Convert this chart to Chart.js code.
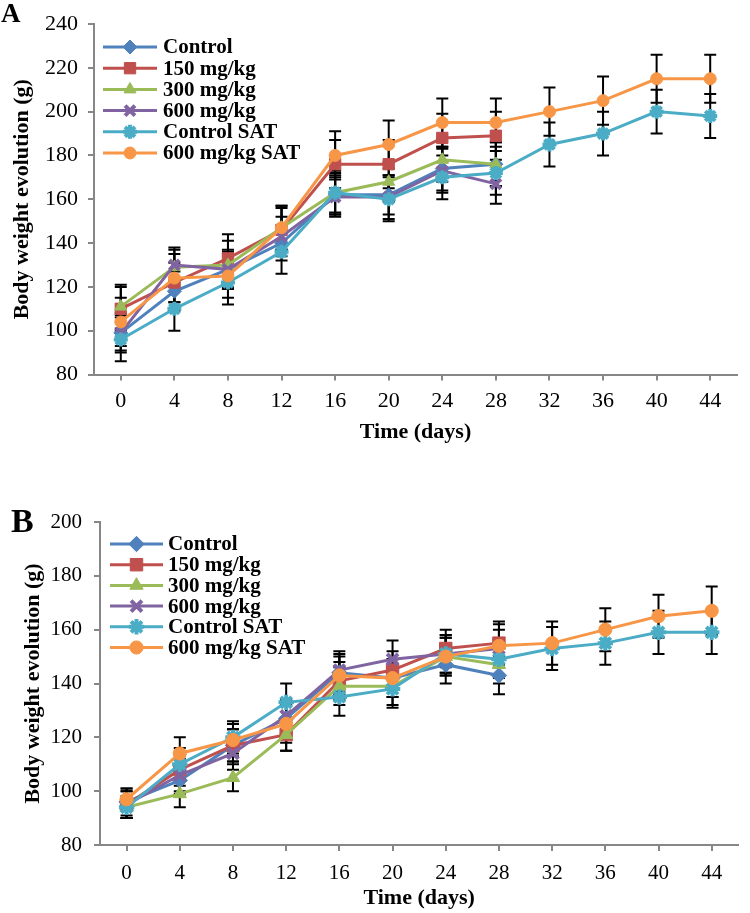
<!DOCTYPE html>
<html>
<head>
<meta charset="utf-8">
<script src="https://cdn.jsdelivr.net/npm/chart.js@4.4.1/dist/chart.umd.min.js"></script>
<style>
  html, body { margin: 0; padding: 0; background: #fff; }
  body { width: 750px; height: 913px; position: relative; overflow: hidden; font-family: "Liberation Serif", "Times New Roman", serif; }
  .panel { position: absolute; left: 0; width: 750px; }
  .tag { position: absolute; font-weight: bold; line-height: 1; color: #000; }
</style>
</head>
<body>
<div class="panel" style="top:0;height:460px"><canvas id="chartA"></canvas></div>
<div class="panel" style="top:480px;height:433px"><canvas id="chartB"></canvas></div>
<div class="tag" style="left:1px;top:0px;font-size:27px">A</div>
<div class="tag" style="left:11px;top:504px;font-size:34px">B</div>
<script>
// x categories (days)
var days = ["0","4","8","12","16","20","24","28","32","36","40","44"];
var seriesNames = ["Control", "150 mg/kg", "300 mg/kg", "600 mg/kg", "Control SAT", "600 mg/kg SAT"];

// Panel A - body weight (g), mean and SD
var controlA      = [99, 118, 128, 140, 162, 162, 174, 176];
var dose150A      = [110, 122, 133, 146, 176, 176, 188, 189];
var dose300A      = [111, 129, 130, 147, 163, 168, 178, 176];
var dose600A      = [99, 130, 128, 143, 161, 161, 173, 167];
var controlSatA   = [96, 110, 122, 136, 163, 160, 170, 172, 185, 190, 200, 198];
var dose600SatA   = [104, 124, 125, 147, 180, 185, 195, 195, 200, 205, 215, 215];

var controlA_sd    = [8, 9, 8, 8, 9, 9, 10, 10];
var dose150A_sd    = [10, 9, 11, 10, 11, 11, 11, 11];
var dose300A_sd    = [10, 8, 11, 10, 9, 9, 10, 10];
var dose600A_sd    = [9, 8, 9, 9, 9, 10, 10, 9];
var controlSatA_sd = [10, 10, 10, 10, 10, 10, 10, 10, 10, 10, 10, 10];
var dose600SatA_sd = [11, 11, 10, 10, 11, 11, 11, 11, 11, 11, 11, 11];

// Panel B
var controlB      = [96, 104, 117, 127, 144, 142, 147, 143];
var dose150B      = [95, 108, 117, 121, 141, 145, 153, 155];
var dose300B      = [94, 99, 105, 121, 139, 139, 150, 147];
var dose600B      = [95, 106, 114, 128, 145, 149, 151, 153];
var controlSatB   = [94, 110, 120, 133, 135, 138, 151, 149, 153, 155, 159, 159];
var dose600SatB   = [97, 114, 119, 125, 143, 142, 150, 154, 155, 160, 165, 167];

var controlB_sd    = [5, 5, 6, 6, 7, 7, 7, 7];
var dose150B_sd    = [5, 6, 6, 6, 7, 7, 7, 8];
var dose300B_sd    = [4, 5, 5, 6, 7, 7, 7, 7];
var dose600B_sd    = [5, 6, 6, 6, 7, 7, 7, 7];
var controlSatB_sd = [4, 6, 6, 7, 7, 7, 7, 7, 8, 8, 8, 8];
var dose600SatB_sd = [4, 6, 6, 7, 7, 7, 7, 8, 8, 8, 8, 9];

// look
var colors  = ['#4F81BD', '#C0504D', '#9BBB59', '#8064A2', '#4BACC6', '#F79646'];
var markers = ['rectRot', 'rect', 'triangle', 'crossRot', 'star', 'circle'];
var markerR = [7, 8, 7, 7, 7, 6];
var axisGray = '#878787';

Chart.defaults.font.family = '"Liberation Serif", "Times New Roman", serif';
Chart.defaults.color = '#000';

function makeSets(values, errors, scale)
{
    return values.map(function (v, i) {
        var stroke = (markers[i] == 'crossRot' || markers[i] == 'star');
        return {
            label: seriesNames[i],
            data: v,
            errors: errors[i],
            borderColor: colors[i],
            backgroundColor: colors[i],
            borderWidth: 3,
            pointStyle: markers[i],
            pointRadius: markerR[i] * scale,
            pointBorderWidth: stroke ? 4 : 1,
            pointBackgroundColor: colors[i],
            pointBorderColor: colors[i],
            fill: false,
            tension: 0,
            order: 5 - i
        };
    });
}

var errorBars = {
    id: 'errorBars',
    beforeDatasetsDraw: function (chart, args, opts) {
        var ctx = chart.ctx, ys = chart.scales.y;
        ctx.save();
        ctx.strokeStyle = '#000';
        ctx.lineWidth = opts.width;
        chart.data.datasets.forEach(function (ds, i) {
            var meta = chart.getDatasetMeta(i);
            ds.errors.forEach(function (e, j) {
                var v = ds.data[j];
                if (v == null) return;
                var px = meta.data[j].x;
                var t = ys.getPixelForValue(v + e), b = ys.getPixelForValue(v - e);
                ctx.beginPath();
                ctx.moveTo(px, t); ctx.lineTo(px, b);
                ctx.moveTo(px - opts.cap, t); ctx.lineTo(px + opts.cap, t);
                ctx.moveTo(px - opts.cap, b); ctx.lineTo(px + opts.cap, b);
                ctx.stroke();
            });
        });
        ctx.restore();
    }
};

var seriesKey = {
    id: 'seriesKey',
    afterDatasetsDraw: function (chart, args, opts) {
        var ctx = chart.ctx;
        ctx.save();
        chart.data.datasets.forEach(function (ds, i) {
            var y = opts.y + i * opts.rowH;
            ctx.strokeStyle = ds.borderColor;
            ctx.lineWidth = 3;
            ctx.beginPath();
            ctx.moveTo(opts.x, y); ctx.lineTo(opts.x + opts.lineLen, y);
            ctx.stroke();
            ctx.fillStyle = ds.pointBackgroundColor;
            ctx.strokeStyle = ds.pointBorderColor;
            ctx.lineWidth = ds.pointBorderWidth;
            Chart.helpers.drawPoint(ctx, {pointStyle: ds.pointStyle, radius: ds.pointRadius, rotation: 0, borderWidth: ds.pointBorderWidth},
                opts.x + opts.lineLen / 2, y);
            ctx.fillStyle = '#000';
            ctx.font = opts.font;
            ctx.textBaseline = 'middle';
            ctx.textAlign = 'left';
            ctx.fillText(ds.label, opts.x + opts.lineLen + opts.gap, y + 1);
        });
        ctx.restore();
    }
};

function buildChart(id, sets, yMin, yMax, lay)
{
    return new Chart(id, {
        type: 'line',
        data: { labels: days, datasets: sets },
        plugins: [errorBars, seriesKey],
        options: {
            responsive: true,
            maintainAspectRatio: false,
            animation: false,
            layout: { padding: lay.padding },
            plugins: {
                legend: { display: false },
                tooltip: { enabled: false },
                errorBars: { width: 2, cap: 6 },
                seriesKey: lay.key
            },
            scales: {
                x: {
                    offset: true,
                    afterFit: function (s) { s.height = lay.xHeight; },
                    grid: { offset: false, drawOnChartArea: false, drawTicks: true, tickLength: 6, color: axisGray, lineWidth: 2 },
                    border: { color: axisGray, width: 2 },
                    ticks: { font: { size: lay.tickSize }, color: '#000', padding: lay.xPad, maxRotation: 0, autoSkip: false },
                    title: { display: true, text: 'Time (days)', font: { size: 22, weight: 'bold' }, color: '#000', padding: { top: 0, bottom: lay.xTitlePad } }
                },
                y: {
                    min: yMin, max: yMax,
                    afterFit: function (s) { s.width = lay.yWidth; },
                    grid: { drawOnChartArea: false, drawTicks: true, tickLength: 6, color: axisGray, lineWidth: 2 },
                    border: { color: axisGray, width: 2 },
                    ticks: { stepSize: 20, font: { size: lay.tickSize }, color: '#000', padding: lay.yPad },
                    title: { display: true, text: 'Body weight evolution (g)', font: { size: 22, weight: 'bold' }, color: '#000', padding: { top: lay.yTitlePad, bottom: 0 } }
                }
            }
        }
    });
}

buildChart('chartA',
    makeSets([controlA, dose150A, dose300A, dose600A, controlSatA, dose600SatA],
             [controlA_sd, dose150A_sd, dose300A_sd, dose600A_sd, controlSatA_sd, dose600SatA_sd], 1),
    80, 240,
    { padding: { top: 24, right: 13, left: 0, bottom: 0 }, xHeight: 85.5, yWidth: 94, tickSize: 22,
      xPad: 8, yPad: 10, xTitlePad: 14, yTitlePad: 9,
      key: { x: 103, y: 47, rowH: 21.2, lineLen: 54, gap: 6, font: 'bold 21px "Liberation Serif"' } });

buildChart('chartB',
    makeSets([controlB, dose150B, dose300B, dose600B, controlSatB, dose600SatB],
             [controlB_sd, dose150B_sd, dose300B_sd, dose600B_sd, controlSatB_sd, dose600SatB_sd], 1.1),
    80, 200,
    { padding: { top: 42, right: 2, left: 0, bottom: 0 }, xHeight: 68, yWidth: 100, tickSize: 21,
      xPad: 10, yPad: 12, xTitlePad: 1, yTitlePad: 20,
      key: { x: 110, y: 64, rowH: 20.7, lineLen: 53, gap: 5, font: 'bold 21px "Liberation Serif"' } });
</script>
</body>
</html>
